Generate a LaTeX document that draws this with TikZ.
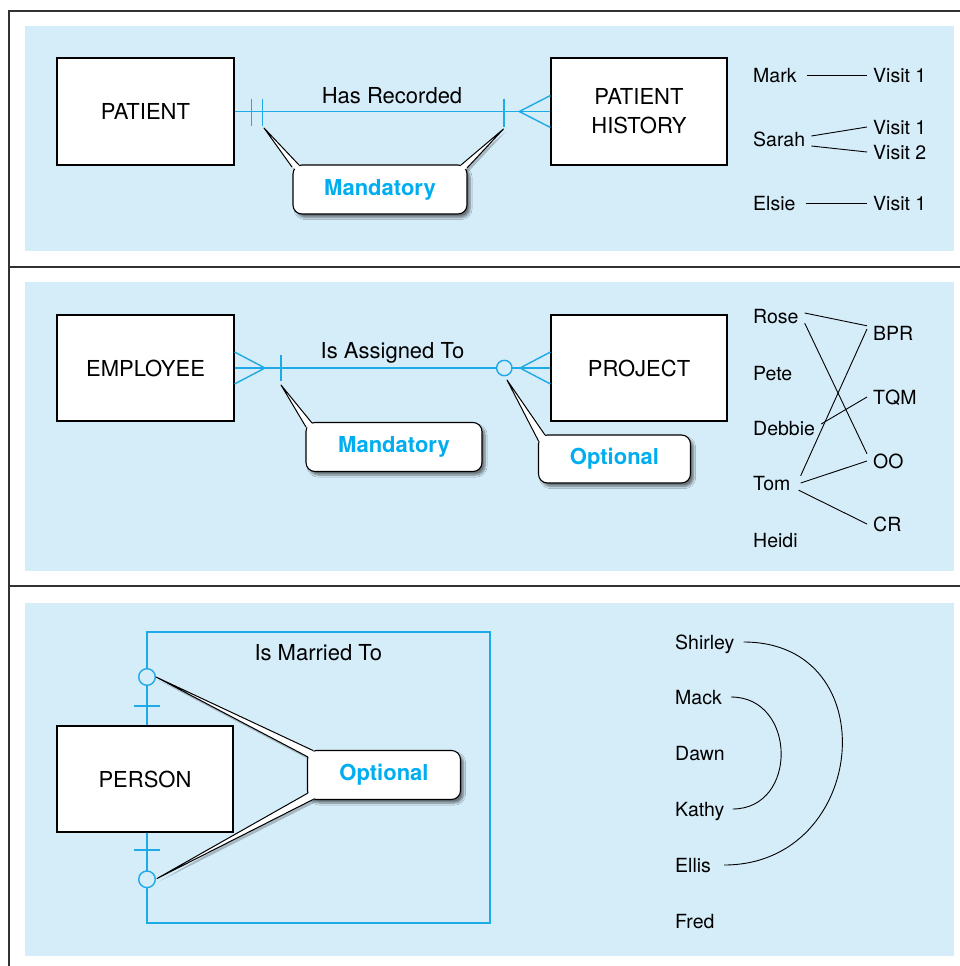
\documentclass[tikz,border=0pt]{standalone}
\usepackage{fontspec}
\setmainfont{TeX Gyre Heros}
\usetikzlibrary{shadows.blur}
\definecolor{panelblue}{RGB}{213,236,249}
\definecolor{erblue}{RGB}{30,170,230}
\definecolor{calloutblue}{RGB}{0,174,239}
\definecolor{framegray}{RGB}{50,50,50}
\newcommand\bigfont{\fontsize{22}{29}\selectfont}
\newcommand\namefont{\fontsize{19.5}{23}\selectfont}
\newcommand\callfont{\fontsize{22}{26}\selectfont\bfseries}
\newcommand\spikeshadow[4]{\fill[black,opacity=0.22,shift={(2,3)}] #1 -- #2 -- #4 -- #3 -- cycle;}
\newcommand\spikebody[4]{\fill[white] #1 -- #2 -- #4 -- #3 -- cycle; \draw[spikeline] #2 -- #1 -- #3;}
\tikzset{
  panel/.style={fill=panelblue, draw=none},
  frameline/.style={draw=framegray, line width=2pt},
  entity/.style={draw=black, line width=1.1pt, fill=white, minimum width=177pt, minimum height=107pt, inner sep=0pt, font=\bigfont, align=center},
  rel/.style={draw=erblue, line width=1.4pt},
  rellabel/.style={font=\bigfont, inner sep=0pt, anchor=base},
  callout/.style={draw=black, line width=1.1pt, fill=white, rounded corners=9pt, inner sep=0pt, font=\callfont, text=calloutblue,
     blur shadow={shadow xshift=3pt, shadow yshift=-3.5pt, shadow opacity=50, shadow blur steps=6}},
  spikeline/.style={draw=black, line width=1pt, line join=round},
  person/.style={font=\namefont, inner ysep=0pt, inner xsep=6pt, text height=14pt, text depth=0pt, anchor=west},
  link/.style={draw=black, line width=0.9pt},
}
\begin{document}
\begin{tikzpicture}[x=1pt,y=-1pt]
\useasboundingbox (0,0) rectangle (960,966);
\fill[white] (0,0) rectangle (960,966);
% panels
\fill[panel] (25,26) rectangle (954,251);
\fill[panel] (25,282) rectangle (954,571);
\fill[panel] (25,603) rectangle (954,956);
% frame
\draw[frameline] (9,966) -- (9,11) -- (960,11);
\draw[frameline] (9,267) -- (960,267);
\draw[frameline] (9,586) -- (960,586);

% ================= Panel 1 =================
\node[entity] (patient) at (145.5,111.5) {PATIENT};
\node[entity, minimum width=176pt] (history) at (639,111.5) {PATIENT\\HISTORY};
\draw[rel] (patient.east) -- (history.west);
\draw[rel] (251.7,98.5) -- (251.7,125.5);
\draw[rel] (262.3,98.5) -- (262.3,125.5);
\draw[rel] (504,98.5) -- (504,126.5);
\draw[rel] ([yshift=16pt]history.west) -- (519.3,111.5) -- ([yshift=-16pt]history.west);
\node[rellabel] (hasrec) at (392,103.3) {Has Recorded};

\spikeshadow{(264,128)}{(292,167)}{(299,165)}{(300,172)}
\spikeshadow{(503.5,129)}{(461,165)}{(467,168)}{(460,172)}
\node[callout, minimum width=174pt, minimum height=49pt] (mand1) at (380,189.5) {Mandatory};
\spikebody{(264,128)}{(292,167)}{(299,165)}{(300,172)}
\spikebody{(503.5,129)}{(461,165)}{(467,168)}{(460,172)}

\node[person] (mark) at (747,75) {Mark};
\node[person] (mv1) at (867,75) {Visit 1};
\node[person] (sarah) at (747,139) {Sarah};
\node[person] (sv1) at (867,127) {Visit 1};
\node[person] (sv2) at (867,152) {Visit 2};
\node[person] (elsie) at (747,203) {Elsie};
\node[person] (ev1) at (867,203) {Visit 1};
\draw[link] ([xshift=4pt]mark.east) -- (mv1.west);
\draw[link] ([yshift=3pt]sarah.east) -- (sv1.west);
\draw[link] ([yshift=-7pt]sarah.east) -- (sv2.west);
\draw[link] ([xshift=4pt]elsie.east) -- (ev1.west);

% ================= Panel 2 =================
\node[entity, minimum height=106pt] (employee) at (145.5,368) {EMPLOYEE};
\node[entity, minimum width=176pt, minimum height=106pt] (project) at (639,368) {PROJECT};
\draw[rel] (employee.east) -- (project.west);
\draw[rel] ([yshift=16pt]employee.east) -- (265,368) -- ([yshift=-16pt]employee.east);
\draw[rel] (281,355) -- (281,381);
\draw[rel, fill=panelblue] (504.3,368) circle (7.7);
\draw[rel] ([yshift=16pt]project.west) -- (520,368) -- ([yshift=-16pt]project.west);
\node[rellabel] (assigned) at (392.5,358.3) {Is Assigned To};

\spikeshadow{(281,385)}{(306,427)}{(312,423)}{(314,430)}
\spikeshadow{(507,380)}{(538.5,441)}{(545,435)}{(546,443)}
\node[callout, minimum width=176pt, minimum height=49pt] (mand2) at (394,447) {Mandatory};
\node[callout, minimum width=152pt, minimum height=48pt] (opt2) at (614.5,459) {Optional};
\spikebody{(281,385)}{(306,427)}{(312,423)}{(314,430)}
\spikebody{(507,380)}{(538.5,441)}{(545,435)}{(546,443)}

\node[person] (rose) at (747,316) {Rose};
\node[person] (pete) at (747,373) {Pete};
\node[person] (debbie) at (747,428) {Debbie};
\node[person] (tom) at (747,483) {Tom};
\node[person] (heidi) at (747,540) {Heidi};
\node[person] (bpr) at (867,333) {BPR};
\node[person] (tqm) at (867,397) {TQM};
\node[person] (oo) at (867,461) {OO};
\node[person] (cr) at (867,524) {CR};
\draw[link] ([yshift=3pt]rose.east) -- (bpr.north west);
\draw[link] (rose.south east) -- (oo.north west);
\draw[link] ([xshift=4pt]tom.north east) -- ([yshift=4pt]bpr.west);
\draw[link] ([yshift=4pt]debbie.east) -- (tqm.west);
\draw[link] ([xshift=4pt]tom.east) -- (oo.west);
\draw[link] ([xshift=2pt]tom.south east) -- (cr.west);

% ================= Panel 3 =================
\draw[rel] (147,726) -- (147,632) -- (490,632) -- (490,923) -- (147,923) -- (147,832);
\node[entity, minimum width=176pt, minimum height=106pt] (person) at (145,779) {PERSON};
\draw[rel, fill=panelblue] (147,677) circle (8.3);
\draw[rel, fill=panelblue] (147,879.3) circle (8.3);
\draw[rel] (134,706) -- (160,706);
\draw[rel] (134,850) -- (160,850);
\node[rellabel] (married) at (318.3,660) {Is Married To};

\spikeshadow{(156,677)}{(313,750.5)}{(308,757)}{(316,758)}
\spikeshadow{(157,878.5)}{(308,793)}{(313,799.5)}{(316,792)}
\node[callout, minimum width=153pt, minimum height=49pt] (opt3) at (384,775) {Optional};
\spikebody{(156,677)}{(313,750.5)}{(308,757)}{(316,758)}
\spikebody{(157,878.5)}{(308,793)}{(313,799.5)}{(316,792)}

\node[person] (shirley) at (669,642) {Shirley};
\node[person] (mack) at (669,697) {Mack};
\node[person] (dawn) at (669,753) {Dawn};
\node[person] (kathy) at (669,809) {Kathy};
\node[person] (ellis) at (669,865) {Ellis};
\node[person] (fred) at (669,921) {Fred};
\draw[link] ([xshift=3pt]shirley.east) to[out=0, in=0, looseness=1.65] ([xshift=7pt]ellis.east);
\draw[link] ([xshift=3pt]mack.east) to[out=0, in=0, looseness=1.5] ([xshift=2pt]kathy.east);
\end{tikzpicture}
\end{document}
